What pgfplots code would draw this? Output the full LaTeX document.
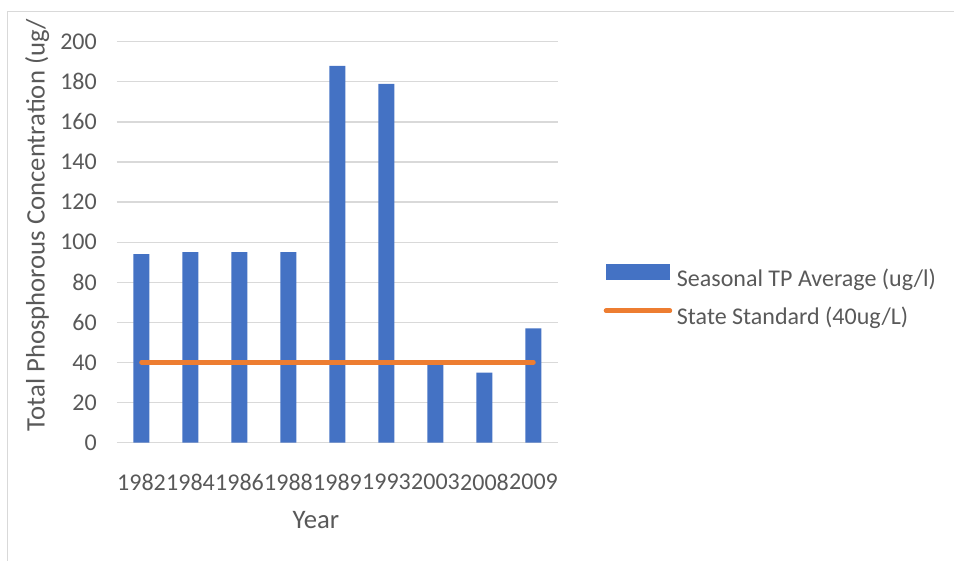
\documentclass[border=0pt]{standalone}
\usepackage{pgfplots}
\pgfplotsset{compat=1.18}
\usepackage{fontspec}
\setmainfont{Carlito}
\definecolor{barblue}{HTML}{4472C4}
\definecolor{stdorange}{HTML}{ED7D31}
\definecolor{gridgray}{HTML}{D9D9D9}
\definecolor{textgray}{HTML}{595959}
\newcommand\chartfont{\fontsize{24}{28}\selectfont}
\newcommand\titlefont{\fontsize{26.7}{31}\selectfont}

\begin{document}
\begin{tikzpicture}
\useasboundingbox (0pt,0pt) rectangle (954pt,561pt);
% chart area frame
\draw[gridgray, line width=1pt] (7pt,0pt) -- (7pt,549pt) -- (954pt,549pt);
\begin{axis}[
  at={(117pt,118.3pt)}, anchor=south west,
  scale only axis, width=441pt, height=401pt,
  xmin=-0.5, xmax=8.5, ymin=0, ymax=200,
  ytick={0,20,...,200},
  xtick={0,...,8},
  xticklabels={1982,1984,1986,1988,1989,1993,2003,2008,2009},
  axis line style={draw=none},
  major tick length=0pt,
  ymajorgrids, grid style={gridgray, line width=1.3pt},
  tick label style={font=\chartfont, text=textgray, inner sep=0pt},
  /pgf/number format/assume math mode=true,
  yticklabel style={anchor=east, xshift=-20pt},
  xticklabel style={anchor=north, yshift=-31pt},
  xlabel={Year},
  ylabel={Total Phosphorous Concentration (ug/},
  label style={font=\titlefont, text=textgray, inner sep=0pt},
  xlabel style={at={(axis description cs:0.451,-0.192)}, anchor=center},
  ylabel style={at={(axis description cs:-0.181,0.543)}, anchor=center},
  legend cell align=left,
  legend style={
    at={(axis description cs:1.1037,0.4456)}, anchor=north west,
    draw=none, fill=none, inner sep=0pt, outer sep=0pt,
    row sep=14.7pt, column sep=4.75pt,
    nodes={inner sep=0pt, text=textgray, font=\chartfont, text height=18pt, text depth=6pt},
  },
]
\addplot[ybar, bar width=16pt, fill=barblue, draw=none,
  legend image code/.code={\fill[barblue] (0pt,0pt) rectangle (64pt,16pt);}]
  coordinates {(0,94) (1,95) (2,95) (3,95) (4,188) (5,179) (6,39) (7,35) (8,57)};
\addlegendentry{Seasonal TP Average (ug/l)}
\addplot[stdorange, line width=4.5pt, line cap=round, mark=none,
  legend image code/.code={\draw[stdorange, line width=4.5pt, line cap=round] (0pt,8pt) -- (64pt,8pt);}]
  coordinates {(0,40) (8,40)};
\addlegendentry{State Standard (40ug/L)}
\end{axis}
\end{tikzpicture}
\end{document}
